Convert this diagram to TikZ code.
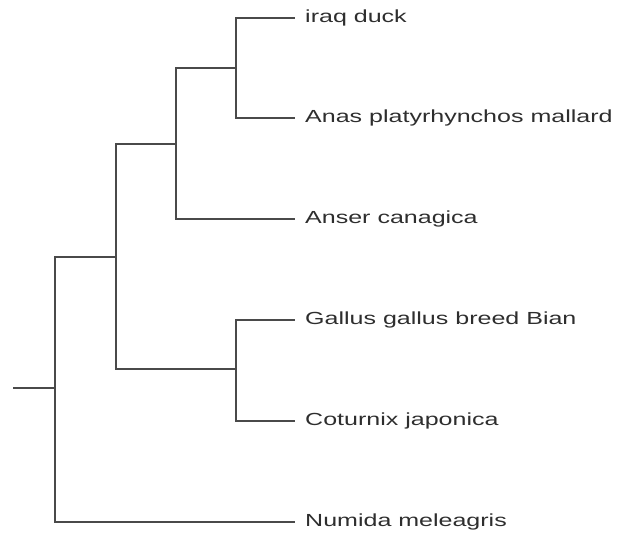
\documentclass[tikz,border=0pt]{standalone}
\usepackage{fontspec}
\setmainfont{Liberation Sans}
\newfontfamily\widesans{Liberation Sans}[FakeStretch=1.43]
\usepackage{xcolor}
\usepackage{tikz}
\usetikzlibrary{positioning}

\definecolor{branchgray}{HTML}{4A4A4A}
\definecolor{labelgray}{HTML}{2E2E2E}

\begin{document}
\begin{tikzpicture}[
  x=1pt, y=-1pt,
  taxon/.style={anchor=west, inner xsep=10pt, inner ysep=0pt,
                text=labelgray, font=\widesans\fontsize{17.5}{20}\selectfont},
  branch/.style={draw=branchgray, line width=1.8pt}
]
\useasboundingbox (0,0) rectangle (617,533);

% Internal nodes
\coordinate (root) at (13,388);
\coordinate (n0) at (55,388);
\coordinate (n1) at (116,257);
\coordinate (n2) at (176,144);
\coordinate (n3) at (236,68);
\coordinate (n4) at (236,369);

% Leaves
\node[taxon] (iraq) at (295,18) {iraq duck};
\node[taxon] (anas) at (295,118) {Anas platyrhynchos mallard};
\node[taxon] (anser) at (295,219) {Anser canagica};
\node[taxon] (gallus) at (295,320) {Gallus gallus breed Bian};
\node[taxon] (coturnix) at (295,421) {Coturnix japonica};
\node[taxon] (numida) at (295,522) {Numida meleagris};

% Branches
\draw[branch] (root) -- (n0);
\draw[branch] (n0) |- (n1);
\draw[branch] (n0) |- (numida.west);
\draw[branch] (n1) |- (n2);
\draw[branch] (n1) |- (n4);
\draw[branch] (n2) |- (n3);
\draw[branch] (n2) |- (anser.west);
\draw[branch] (n3) |- (iraq.west);
\draw[branch] (n3) |- (anas.west);
\draw[branch] (n4) |- (gallus.west);
\draw[branch] (n4) |- (coturnix.west);
\end{tikzpicture}
\end{document}
